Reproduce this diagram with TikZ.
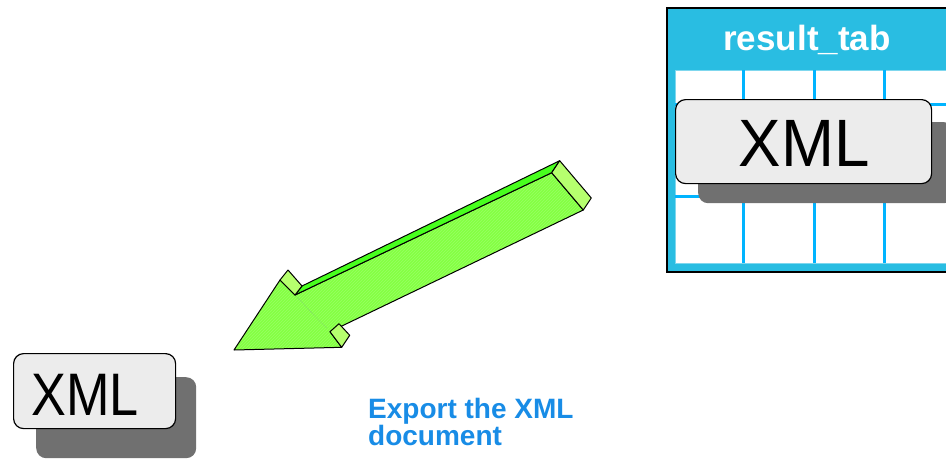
\documentclass[tikz,border=0pt]{standalone}
\usepackage{fontspec}
\setmainfont{Liberation Sans}
\usetikzlibrary{patterns,calc}
\definecolor{tabcyan}{RGB}{41,189,226}
\definecolor{gridcyan}{RGB}{0,180,255}
\definecolor{boxgray}{RGB}{236,236,236}
\definecolor{shadowgray}{RGB}{112,112,112}
\definecolor{frontgreen}{RGB}{132,255,66}
\definecolor{hatchgreen}{RGB}{152,255,100}
\definecolor{topgreen}{RGB}{72,255,30}
\definecolor{sidegreen}{RGB}{182,255,110}
\definecolor{exportblue}{RGB}{24,140,230}
\tikzset{
  xmlbox/.style={draw=black, line width=1.2pt, fill=boxgray, rounded corners=10pt, inner sep=0pt},
  shadowbox/.style={fill=shadowgray, rounded corners=10pt, inner sep=0pt, draw=none},
  gridline/.style={draw=gridcyan, line width=3pt},
  arrowface/.style={draw=black, line width=1pt, line join=round},
}
\begin{document}
\begin{tikzpicture}[x=1pt,y=-1pt]
\useasboundingbox (0,0) rectangle (946,459);
\clip (0,0) rectangle (946,459);

% ---------- table ----------
\node[draw=black, line width=1.5pt, fill=tabcyan, minimum width=300pt, minimum height=264pt, anchor=north west, inner sep=0pt] (tab) at (666,7) {};
\node[draw=tabcyan!60, line width=0.6pt, fill=white, minimum width=290pt, minimum height=193pt, anchor=north west, inner sep=0pt] (grid) at (675,70) {};
\foreach \gx in {743,814,884} \draw[gridline] (\gx,70) -- (\gx,263);
\foreach \gy in {104,196} \draw[gridline] (675,\gy) -- (960,\gy);
\node[anchor=base, inner sep=0pt, text=white, font=\bfseries\fontsize{35}{35}\selectfont] (title) at (807,50) {result\_tab};

% XML box inside table
\node[shadowbox, minimum width=256pt, minimum height=81pt, anchor=north west] (shadow1) at (698,122) {};
\node[xmlbox, minimum width=256pt, minimum height=84pt, anchor=north west] (box1) at (675,99) {};
\node[anchor=base, inner sep=0pt, font=\fontsize{67}{67}\selectfont] (xml1) at (804,166.7) {\scalebox{0.95}[1]{XML}};

% ---------- bottom XML box ----------
\node[shadowbox, minimum width=160pt, minimum height=81pt, anchor=north west] (shadow2) at (36,377) {};
\node[xmlbox, minimum width=162pt, minimum height=75pt, anchor=north west] (box2) at (13,353) {};
\node[anchor=base, inner sep=0pt, font=\fontsize{60}{60}\selectfont] (xml2) at (85,415) {\scalebox{0.87}[1]{XML}};

% ---------- 3D arrow ----------
\coordinate (T) at (234,350);
\coordinate (HR) at (341.7,347.3);
\coordinate (NR) at (330,331.7);
\coordinate (EB) at (583.3,210);
\coordinate (ET) at (551.7,172.7);
\coordinate (NL) at (295,295);
\coordinate (HL) at (280,280);
\coordinate (HRe) at ($(HR)+(8,-12)$);
\coordinate (NRe) at ($(NR)+(9,-8)$);
\coordinate (EBe) at ($(EB)+(8,-12)$);
\coordinate (ETe) at ($(ET)+(8,-12)$);
\coordinate (NLe) at ($(NL)+(7,-9)$);
\coordinate (HLe) at ($(HL)+(8,-10)$);

% front face
\fill[frontgreen] (T) -- (HR) -- (NR) -- (EB) -- (ET) -- (NL) -- (HL) -- cycle;
\fill[pattern=north east lines, pattern color=hatchgreen] (T) -- (HR) -- (NR) -- (EB) -- (ET) -- (NL) -- (HL) -- cycle;
\draw[green!50!black!50, densely dotted, line width=0.5pt] (NL) -- ($(NL)!0.9!(NR)$);
\draw[arrowface] (T) -- (HR) -- (NR) -- (EB) -- (ET) -- (NL) -- (HL) -- cycle;
% top face
\draw[arrowface, fill=topgreen] (NL) -- (ET) -- (ETe) -- (NLe) -- cycle;
% end face
\draw[arrowface, fill=sidegreen] (ET) -- (EB) -- (EBe) -- (ETe) -- cycle;
% barb side faces
\draw[arrowface, fill=sidegreen] (HL) -- (NL) -- (NLe) -- (HLe) -- cycle;
\draw[arrowface, fill=sidegreen] (NR) -- (HR) -- (HRe) -- (NRe) -- cycle;

% ---------- caption ----------
\node[anchor=base west, inner sep=0pt, align=left, text=exportblue, font=\bfseries\fontsize{28}{27}\selectfont] (caption) at (368,445) {Export the XML\\document};
\end{tikzpicture}
\end{document}
